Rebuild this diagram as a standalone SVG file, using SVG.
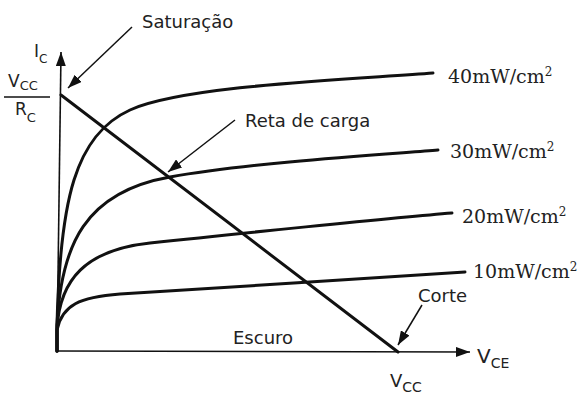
<svg xmlns="http://www.w3.org/2000/svg" width="577" height="394" viewBox="0 0 577 394">
<style>
.curve{fill:none;stroke:#111;stroke-width:3;stroke-linecap:round;stroke-linejoin:round}
.axis{fill:none;stroke:#111;stroke-width:1.6}
.ptr{fill:none;stroke:#111;stroke-width:1.5}
.lbl{font-family:"DejaVu Sans",sans-serif;font-size:18px;fill:#222}
.pw{font-family:"DejaVu Serif",serif;font-size:19px;fill:#222}
.sym{font-family:"DejaVu Sans",sans-serif;fill:#222}
</style>
<defs>
<marker id="ah" viewBox="0 0 14 10" refX="14" refY="5" markerWidth="14" markerHeight="10" markerUnits="userSpaceOnUse" orient="auto">
<path d="M0,0 L14,5 L0,10 Z" fill="#111"/>
</marker>
</defs>
<g id="connectors">
<line class="axis" x1="57" y1="351" x2="61" y2="52" marker-end="url(#ah)"/>
<line class="axis" x1="57" y1="351" x2="470" y2="352" marker-end="url(#ah)"/>
<line class="ptr" x1="132" y1="27" x2="68" y2="88" marker-end="url(#ah)"/>
<line class="ptr" x1="235" y1="120" x2="168" y2="172" marker-end="url(#ah)"/>
<line class="ptr" x1="422" y1="305" x2="398" y2="345" marker-end="url(#ah)"/>
</g>
<g id="load-line">
<line class="curve" x1="61" y1="95" x2="398" y2="352"/>
</g>
<g id="curve-40">
<path class="curve" d="M57,351 L57,325 C60,200 75,135 130,110 S360,79 433,73"/>
<text class="pw" x="448" y="83">40mW/cm<tspan font-size="12" dy="-7">2</tspan></text>
</g>
<g id="curve-30">
<path class="curve" d="M57,351 L57,325 C61,245 85,192 170,177 S390,154 438,150"/>
<text class="pw" x="450" y="158">30mW/cm<tspan font-size="12" dy="-7">2</tspan></text>
</g>
<g id="curve-20">
<path class="curve" d="M57,351 L57,328 C60,280 85,250 150,243 S400,217 452,213"/>
<text class="pw" x="462" y="223">20mW/cm<tspan font-size="12" dy="-7">2</tspan></text>
</g>
<g id="curve-10">
<path class="curve" d="M57,351 L57,330 C62,305 80,297 120,294 S400,277 465,272"/>
<text class="pw" x="473" y="278">10mW/cm<tspan font-size="12" dy="-7">2</tspan></text>
</g>
<g id="labels">
<text class="lbl" x="142" y="28">Saturação</text>
<text class="lbl" x="245" y="127">Reta de carga</text>
<text class="lbl" x="233" y="344">Escuro</text>
<text class="lbl" x="418" y="302">Corte</text>
</g>
<g id="axis-labels">
<text class="sym" x="34" y="57" font-size="17">I<tspan font-size="12" dy="6">C</tspan></text>
<text class="sym" x="8" y="87" font-size="17">V<tspan font-size="13" dy="3">CC</tspan></text>
<line x1="4" y1="97" x2="50" y2="97" stroke="#111" stroke-width="1.5"/>
<text class="sym" x="15" y="115" font-size="17">R<tspan font-size="13" dy="7">C</tspan></text>
<text class="sym" x="477" y="363" font-size="20">V<tspan font-size="14" dy="5">CE</tspan></text>
<text class="sym" x="390" y="387" font-size="18">V<tspan font-size="14" dy="5">CC</tspan></text>
</g>
</svg>
